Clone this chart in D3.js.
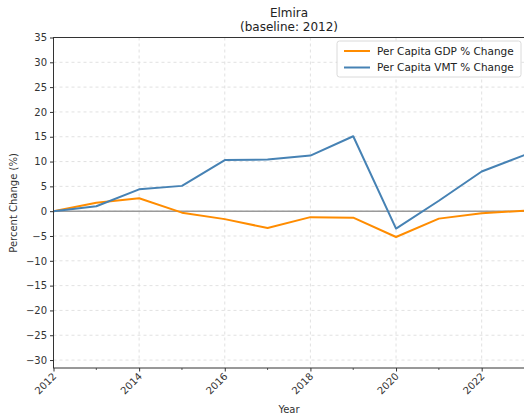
<!DOCTYPE html>
<html>
<head>
<meta charset="utf-8">
<script src="https://cdn.jsdelivr.net/npm/d3@7"></script>
<style>
  body { margin: 0; background: #fff; }
  svg { display: block; font-family: "DejaVu Sans", sans-serif; }
</style>
</head>
<body>
<svg id="chart" width="524" height="420"></svg>
<script>
// Per capita change relative to 2012, Elmira
const years = [2012, 2013, 2014, 2015, 2016, 2017, 2018, 2019, 2020, 2021, 2022, 2023];
const gdpChange = [0, 1.7, 2.6, -0.3, -1.6, -3.4, -1.2, -1.3, -5.2, -1.5, -0.4, 0.1];
const vmtChange = [0, 1.0, 4.4, 5.1, 10.3, 10.4, 11.2, 15.1, -3.5, 2.1, 8.0, 11.3];
const xTicks = [2012, 2014, 2016, 2018, 2020, 2022];
const yTicks = [-30, -25, -20, -15, -10, -5, 0, 5, 10, 15, 20, 25, 30, 35];
const seriesNames = ["Per Capita GDP % Change", "Per Capita VMT % Change"];
const seriesColors = ["#ff8c00", "#4682b4"];

const svg = d3.select("#chart");
const plotLeft = 53.5, plotRight = 524.5, plotTop = 37.5, plotBottom = 368;

const x = d3.scaleLinear().domain([2012, 2023]).range([plotLeft, plotRight]);
const y = d3.scaleLinear().domain([-31.6, 35]).range([plotBottom, plotTop]);

// grid
const grid = svg.append("g").attr("stroke", "#d9d9d9").attr("stroke-width", 0.8)
  .attr("stroke-dasharray", "3,3");
xTicks.forEach(t => grid.append("line")
  .attr("x1", x(t)).attr("x2", x(t)).attr("y1", plotTop).attr("y2", plotBottom));
yTicks.forEach(t => grid.append("line")
  .attr("x1", plotLeft).attr("x2", plotRight).attr("y1", y(t)).attr("y2", y(t)));

// zero reference line
svg.append("line")
  .attr("x1", plotLeft).attr("x2", plotRight).attr("y1", y(0)).attr("y2", y(0))
  .attr("stroke", "#9a9a9a").attr("stroke-width", 1.5);

// series lines
const line = d3.line().x((d, i) => x(years[i])).y(d => y(d));
[gdpChange, vmtChange].forEach((s, k) => {
  svg.append("path").datum(s)
    .attr("fill", "none")
    .attr("stroke", seriesColors[k])
    .attr("stroke-width", 2)
    .attr("stroke-linejoin", "round")
    .attr("d", line);
});

// frame
svg.append("rect")
  .attr("x", plotLeft).attr("y", plotTop)
  .attr("width", plotRight - plotLeft).attr("height", plotBottom - plotTop)
  .attr("fill", "none").attr("stroke", "#333").attr("stroke-width", 1);

// y axis
const yAxis = svg.append("g").attr("transform", `translate(${plotLeft},0)`)
  .call(d3.axisLeft(y).tickValues(yTicks).tickSize(3.5).tickPadding(3)
    .tickFormat(d => d < 0 ? "\u2212" + Math.abs(d) : d));
yAxis.select(".domain").remove();
yAxis.selectAll("text").attr("font-size", 10).attr("fill", "#333")
  .attr("font-family", "DejaVu Sans, sans-serif");
yAxis.selectAll("line").attr("stroke", "#333");

// x axis
const xAxis = svg.append("g").attr("transform", `translate(0,${plotBottom})`)
  .call(d3.axisBottom(x).tickValues(xTicks).tickSize(3.5).tickFormat(d3.format("d")));
xAxis.select(".domain").remove();
xAxis.selectAll("line").attr("stroke", "#333");
xAxis.selectAll("text")
  .attr("font-size", 10).attr("fill", "#333")
  .attr("font-family", "DejaVu Sans, sans-serif")
  .attr("text-anchor", "end")
  .attr("dy", null).attr("y", 0)
  .attr("transform", "translate(3,9) rotate(-45)");

// minor ticks at odd years
const minor = years.filter(yv => yv % 2 === 1);
svg.append("g").selectAll("line").data(minor).join("line")
  .attr("x1", d => x(d)).attr("x2", d => x(d))
  .attr("y1", plotBottom).attr("y2", plotBottom + 2)
  .attr("stroke", "#333").attr("stroke-width", 0.8);

// labels
svg.append("text").attr("x", 289).attr("y", 413).attr("text-anchor", "middle")
  .attr("font-size", 10).attr("fill", "#333").text("Year");
svg.append("text").attr("transform", "translate(17,203) rotate(-90)")
  .attr("text-anchor", "middle").attr("font-size", 10).attr("fill", "#333")
  .text("Percent Change (%)");

// title
svg.append("text").attr("x", 289).attr("y", 17).attr("text-anchor", "middle")
  .attr("font-size", 12).attr("fill", "#222").text("Elmira");
svg.append("text").attr("x", 289).attr("y", 31).attr("text-anchor", "middle")
  .attr("font-size", 12).attr("fill", "#222").text("(baseline: 2012)");

// legend
const lg = svg.append("g").attr("transform", "translate(337,41)");
lg.append("rect").attr("width", 184).attr("height", 36).attr("rx", 2.5)
  .attr("fill", "#fff").attr("fill-opacity", 0.85)
  .attr("stroke", "#d0d0d0").attr("stroke-width", 0.8);
seriesNames.forEach((name, i) => {
  const gy = 10 + i * 16.5;
  lg.append("line").attr("x1", 7).attr("x2", 33).attr("y1", gy).attr("y2", gy)
    .attr("stroke", seriesColors[i]).attr("stroke-width", 2);
  lg.append("text").attr("x", 40).attr("y", gy + 3.8)
    .attr("font-size", 10.5).attr("fill", "#222").text(name);
});
</script>
</body>
</html>
